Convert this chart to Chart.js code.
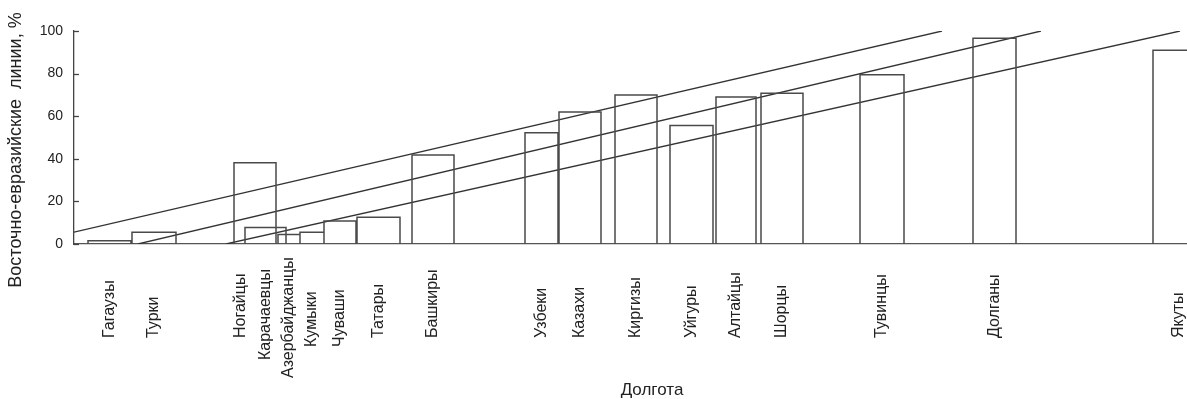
<!DOCTYPE html>
<html><head><meta charset="utf-8">
<script src="https://cdn.jsdelivr.net/npm/chart.js@4"></script>
<style>html,body{margin:0;padding:0;background:#fff}</style>
</head><body>
<canvas id="c" width="1187" height="399" style="width:1187px;height:399px;display:block"></canvas>
<script>
// Peoples (ordered west to east)
const groups = ["Гагаузы","Турки","Ногайцы","Карачаевцы","Азербайджанцы","Кумыки","Чуваши","Татары","Башкиры","Узбеки","Казахи","Киргизы","Уйгуры","Алтайцы","Шорцы","Тувинцы","Долганы","Якуты"];
// Longitude span of each bar (arbitrary units)
const lonStart = [1.4, 5.8, 16.0, 17.1, 20.4, 22.6, 25.0, 28.3, 33.8, 45.1, 48.5, 54.1, 59.6, 64.2, 68.7, 78.6, 89.9, 107.9];
const lonEnd   = [5.7,10.2, 20.2, 21.2, 22.6, 25.0, 28.2, 32.6, 38.0, 48.4, 52.7, 58.3, 63.9, 68.2, 72.9, 83.0, 94.2, 113.0];
// East Eurasian lineages, %
const eastShare = [1.5, 5.5, 38.2, 7.8, 4.5, 5.5, 10.8, 12.6, 41.8, 52.2, 62.0, 70.0, 55.6, 69.0, 70.8, 79.5, 96.6, 91.0];
// Regression lines (endpoints)
const trendA = [{x:0, y:5.6}, {x:86.8, y:100}];
const trendB = [{x:6.4, y:0}, {x:96.7, y:100}];
const trendC = [{x:15.2, y:0}, {x:110.6, y:100}];
const yTicks = [0, 20, 40, 60, 80, 100];

// label layout tweaks (style only)
const labelShift = {"Ногайцы": -14};
const labelBottom = {"Карачаевцы": 360, "Азербайджанцы": 378, "Кумыки": 347, "Чуваши": 347};

const barOutline = [];
groups.forEach((g, i) => {
  barOutline.push({x: lonStart[i], y: 0}, {x: lonStart[i], y: eastShare[i]},
                  {x: lonEnd[i], y: eastShare[i]}, {x: lonEnd[i], y: 0}, {x: lonEnd[i], y: null});
});

const FONT = "'Liberation Sans', Arial, Helvetica, sans-serif";

const decor = {
  id: 'decor',
  afterDraw(chart) {
    const ctx = chart.ctx, xs = chart.scales.x, ys = chart.scales.y;
    ctx.save();
    // inner tick marks
    ctx.strokeStyle = '#444'; ctx.lineWidth = 1.3;
    yTicks.forEach(v => {
      const py = Math.round(ys.getPixelForValue(v)) + 0.5;
      ctx.beginPath(); ctx.moveTo(xs.left, py); ctx.lineTo(xs.left + 5, py); ctx.stroke();
    });
    // category labels
    ctx.fillStyle = '#222';
    ctx.font = '16px ' + FONT;
    ctx.textBaseline = 'middle';
    ctx.textAlign = 'left';
    groups.forEach((g, i) => {
      const cx = xs.getPixelForValue((lonStart[i] + lonEnd[i]) / 2) + (labelShift[g] || 0);
      const by = labelBottom[g] || 338;
      ctx.save(); ctx.translate(cx, by); ctx.rotate(-Math.PI / 2);
      ctx.fillText(g, 0, 0); ctx.restore();
    });
    // axis titles
    ctx.textAlign = 'center';
    ctx.font = '17px ' + FONT;
    ctx.fillText('Долгота', 652, 390);
    ctx.font = '18px ' + FONT;
    ctx.save(); ctx.translate(16, 150); ctx.rotate(-Math.PI / 2);
    ctx.fillText('Восточно-евразийские  линии, %', 0, 0); ctx.restore();
    ctx.restore();
  }
};

new Chart(document.getElementById('c'), {
  type: 'scatter',
  data: {
    datasets: [
      {data: barOutline, showLine: true, spanGaps: false, borderColor: '#4a4a4a', borderWidth: 1.5, pointRadius: 0, fill: false},
      {data: trendA, showLine: true, borderColor: '#333', borderWidth: 1.3, pointRadius: 0},
      {data: trendB, showLine: true, borderColor: '#333', borderWidth: 1.3, pointRadius: 0},
      {data: trendC, showLine: true, borderColor: '#333', borderWidth: 1.3, pointRadius: 0}
    ]
  },
  options: {
    responsive: false, animation: false, devicePixelRatio: 1,
    layout: {padding: {top: 31, right: 0, left: 0, bottom: 0}},
    plugins: {legend: {display: false}, tooltip: {enabled: false}},
    scales: {
      x: {type: 'linear', min: 0, max: 111.3, grid: {display: false, drawTicks: false},
          border: {color: '#555', width: 1.3}, ticks: {display: false},
          afterFit(s) { s.height = 155; }},
      y: {min: 0, max: 100, grid: {display: false, drawTicks: false},
          border: {color: '#444', width: 1.3},
          ticks: {stepSize: 20, padding: 11, color: '#222', font: {family: FONT, size: 14}},
          afterFit(s) { s.width = 74; }}
    }
  },
  plugins: [decor]
});
</script>
</body></html>
